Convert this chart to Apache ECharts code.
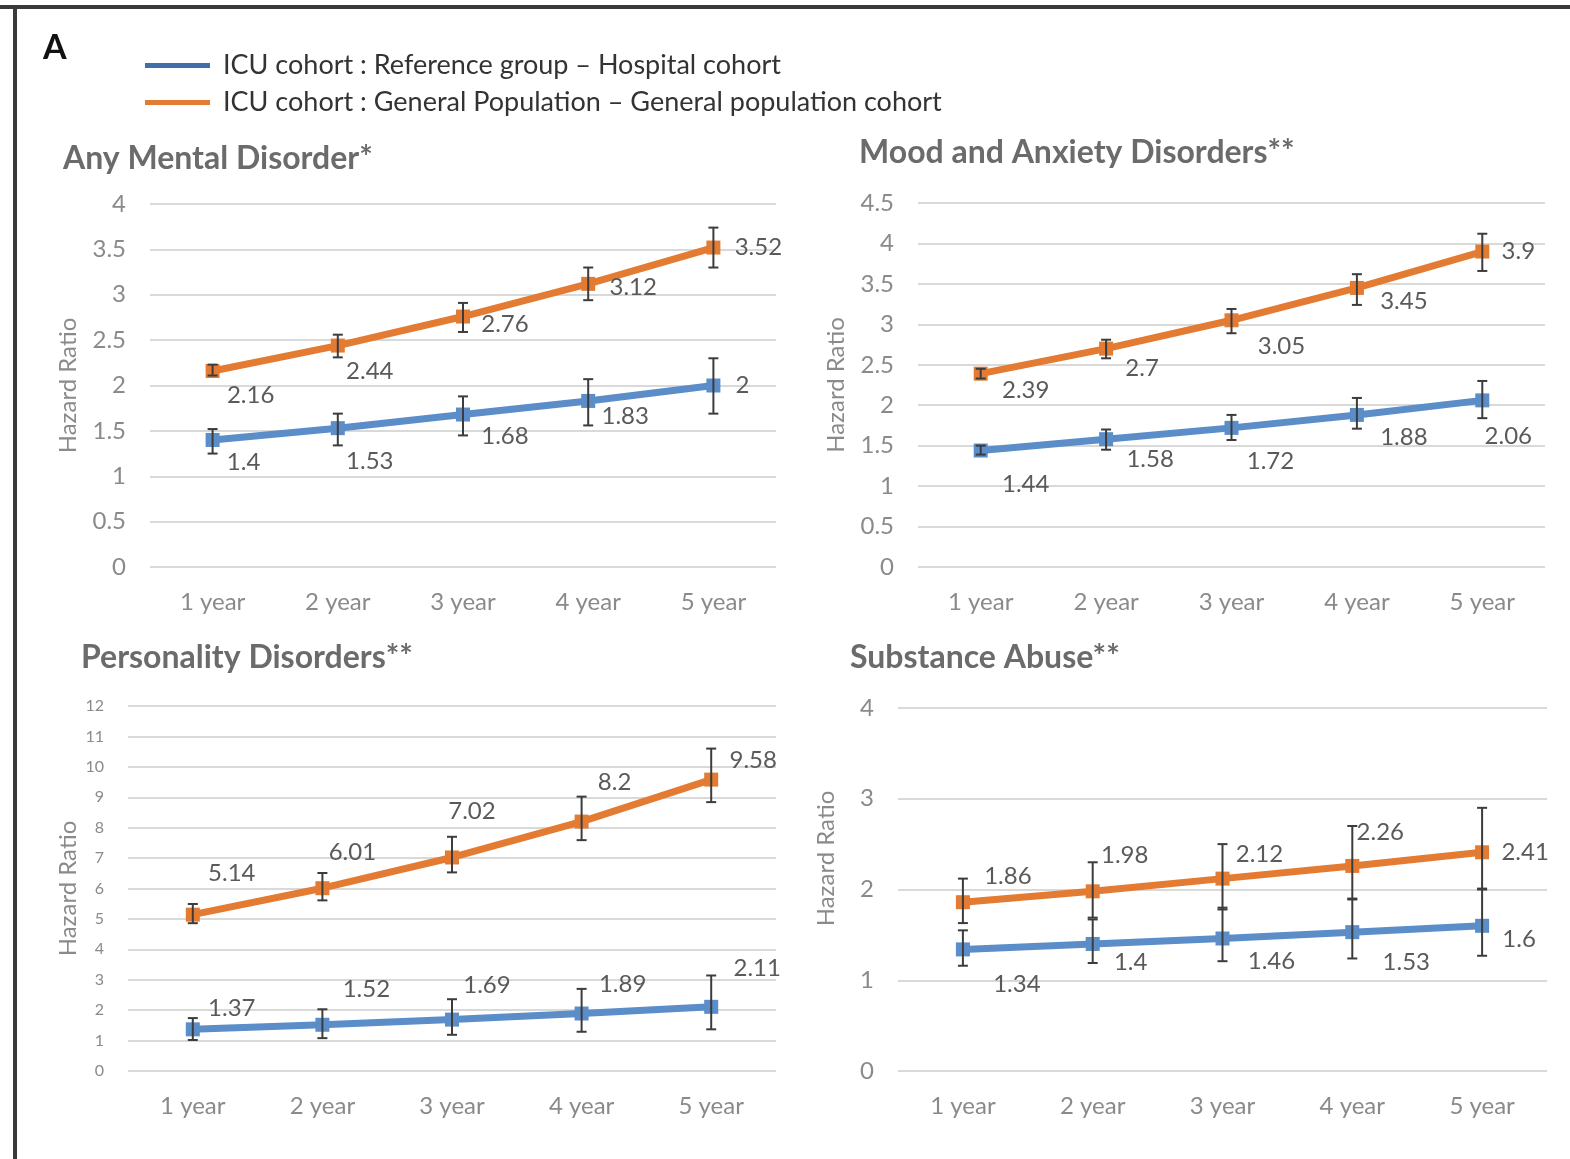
<!DOCTYPE html>
<html>
<head>
<meta charset="utf-8">
<script src="https://cdn.jsdelivr.net/npm/echarts@6/dist/echarts.min.js"></script>
<style>
html,body{margin:0;padding:0;background:#fff;}
#chart{width:1570px;height:1159px;}
</style>
</head>
<body>
<div id="chart"></div>
<script>
// ---------- DATA ----------
const categories = ['1 year', '2 year', '3 year', '4 year', '5 year'];
const seriesNames = ['ICU cohort : Reference group \u2013 Hospital cohort', 'ICU cohort : General Population \u2013 General population cohort'];
const panelTitles = ['Any Mental Disorder*', 'Mood and Anxiety Disorders**', 'Personality Disorders**', 'Substance Abuse**'];

// Any Mental Disorder
const anyHosp = [1.4, 1.53, 1.68, 1.83, 2];
const anyHospLow = [1.25, 1.34, 1.45, 1.56, 1.69];
const anyHospHigh = [1.52, 1.69, 1.88, 2.07, 2.30];
const anyGen = [2.16, 2.44, 2.76, 3.12, 3.52];
const anyGenLow = [2.11, 2.31, 2.59, 2.94, 3.30];
const anyGenHigh = [2.23, 2.56, 2.91, 3.30, 3.74];

// Mood and Anxiety Disorders
const moodHosp = [1.44, 1.58, 1.72, 1.88, 2.06];
const moodHospLow = [1.39, 1.45, 1.57, 1.71, 1.84];
const moodHospHigh = [1.50, 1.70, 1.88, 2.09, 2.30];
const moodGen = [2.39, 2.7, 3.05, 3.45, 3.9];
const moodGenLow = [2.33, 2.58, 2.89, 3.24, 3.66];
const moodGenHigh = [2.45, 2.81, 3.19, 3.62, 4.12];

// Personality Disorders
const persHosp = [1.37, 1.52, 1.69, 1.89, 2.11];
const persHospLow = [1.02, 1.08, 1.19, 1.29, 1.37];
const persHospHigh = [1.74, 2.03, 2.36, 2.70, 3.14];
const persGen = [5.14, 6.01, 7.02, 8.2, 9.58];
const persGenLow = [4.86, 5.61, 6.53, 7.59, 8.84];
const persGenHigh = [5.49, 6.51, 7.70, 9.02, 10.60];

// Substance Abuse
const subHosp = [1.34, 1.4, 1.46, 1.53, 1.6];
const subHospLow = [1.16, 1.19, 1.21, 1.24, 1.27];
const subHospHigh = [1.55, 1.67, 1.80, 1.90, 2.01];
const subGen = [1.86, 1.98, 2.12, 2.26, 2.41];
const subGenLow = [1.63, 1.69, 1.78, 1.89, 2.00];
const subGenHigh = [2.12, 2.30, 2.50, 2.70, 2.90];

// y axis scales
const yMax = [4, 4.5, 12, 4];
const yStep = [0.5, 0.5, 1, 1];

// ---------- LAYOUT / STYLE ----------
const BLUE = '#5B8DC8';
const ORANGE = '#E37B33';
const FONT = 'Lato, "Open Sans", sans-serif';

const grids = [
  {left: 150, top: 204, width: 626, height: 363},
  {left: 918, top: 203, width: 627, height: 364},
  {left: 128, top: 706, width: 648, height: 365},
  {left: 898, top: 708, width: 649, height: 363}
];
const titlePos = [[58, 138], [854, 132], [76, 637], [845, 637]];
const yLabelSize = [24, 24, 16, 24];
const yNameGap = [70, 70, 48, 60];
const yNamePad = [[0, 0, 0, 0], [0, 0, 0, 0], [0, 0, 0, 0], [0, 0, 0, 62]];

// label offsets (dx, dy) relative to the point, per panel: [hospital, general]
const labelOffsets = [
  [[[31, 22], [32, 33], [42, 22], [37, 15], [29, 0]],
   [[38, 24], [32, 26], [42, 8], [45, 3], [45, 0]]],
  [[[45, 34], [44, 20], [39, 33], [47, 22], [26, 36]],
   [[45, 17], [36, 20], [50, 26], [47, 13], [36, 0]]],
  [[[39, -21], [44, -36], [35, -34], [41, -29], [46, -39]],
   [[39, -41], [30, -36], [20, -46], [33, -39], [42, -19]]],
  [[[54, 35], [38, 18], [49, 23], [54, 30], [37, 13]],
   [[45, -26], [32, -36], [37, -24], [28, -34], [43, 0]]]
];

const panels = [
  [[anyHosp, anyHospLow, anyHospHigh], [anyGen, anyGenLow, anyGenHigh]],
  [[moodHosp, moodHospLow, moodHospHigh], [moodGen, moodGenLow, moodGenHigh]],
  [[persHosp, persHospLow, persHospHigh], [persGen, persGenLow, persGenHigh]],
  [[subHosp, subHospLow, subHospHigh], [subGen, subGenLow, subGenHigh]]
];

function errRender(params, api) {
  const x = api.value(0);
  const lo = api.coord([x, api.value(1)]);
  const hi = api.coord([x, api.value(2)]);
  const w = 5;
  const st = {stroke: '#3c3c3c', lineWidth: 2};
  return {
    type: 'group',
    children: [
      {type: 'line', shape: {x1: lo[0], y1: lo[1], x2: hi[0], y2: hi[1]}, style: st},
      {type: 'line', shape: {x1: lo[0] - w, y1: lo[1], x2: lo[0] + w, y2: lo[1]}, style: st},
      {type: 'line', shape: {x1: hi[0] - w, y1: hi[1], x2: hi[0] + w, y2: hi[1]}, style: st}
    ]
  };
}

const xAxes = [], yAxes = [], series = [], titles = [];
grids.forEach((g, i) => {
  xAxes.push({
    type: 'category', gridIndex: i, data: categories, boundaryGap: true,
    axisLine: {show: false}, axisTick: {show: false},
    axisLabel: {color: '#8a8a8a', fontSize: 24, fontFamily: FONT, margin: 23}
  });
  yAxes.push({
    type: 'value', gridIndex: i, min: 0, max: yMax[i], interval: yStep[i],
    name: 'Hazard Ratio', nameLocation: 'middle', nameGap: yNameGap[i], nameRotate: 90,
    nameTextStyle: {color: '#8a8a8a', fontSize: 24, fontFamily: FONT, padding: yNamePad[i]},
    axisLine: {show: false}, axisTick: {show: false},
    axisLabel: {color: '#8a8a8a', fontSize: yLabelSize[i], fontFamily: FONT, margin: 24},
    splitLine: {lineStyle: {color: '#d9d9d9', width: 2}}
  });
  titles.push({
    text: panelTitles[i], left: titlePos[i][0], top: titlePos[i][1],
    textStyle: {color: '#6b6b6b', fontSize: 32, fontWeight: 'bold', fontFamily: FONT}
  });
  panels[i].forEach((trip, s) => {
    const color = s === 0 ? BLUE : ORANGE;
    series.push({
      type: 'line', name: seriesNames[s], xAxisIndex: i, yAxisIndex: i,
      data: trip[0].map((v, k) => ({
        value: v,
        label: {offset: labelOffsets[i][s][k]}
      })),
      symbol: 'rect', symbolSize: 14, z: 3,
      lineStyle: {color: color, width: 7},
      itemStyle: {color: color},
      label: {show: true, position: 'inside', color: '#5a5a5a', fontSize: 24, fontFamily: FONT},
      emphasis: {disabled: true},
      animation: false
    });
    series.push({
      type: 'custom', name: seriesNames[s], xAxisIndex: i, yAxisIndex: i,
      renderItem: errRender,
      data: trip[1].map((lo, k) => [k, lo, trip[2][k]]),
      encode: {x: 0, y: [1, 2]}, z: 4, silent: true, animation: false
    });
  });
});

titles.push({
  text: 'A', left: 38, top: 26,
  textStyle: {color: '#111', fontSize: 34, fontWeight: 'bold', fontFamily: FONT}
});

const option = {
  backgroundColor: '#fff',
  animation: false,
  title: titles,
  legend: {
    data: seriesNames.map((n, s) => ({name: n, itemStyle: {color: s === 0 ? '#3F6FA8' : ORANGE}})),
    orient: 'vertical', left: 140, top: 47, itemWidth: 65, itemHeight: 5, itemGap: 10,
    icon: 'rect',
    textStyle: {color: '#333', fontSize: 27, fontFamily: FONT, padding: [0, 0, 0, 8]},
    selectedMode: false
  },
  grid: grids,
  xAxis: xAxes,
  yAxis: yAxes,
  series: series,
  graphic: [
    {type: 'rect', shape: {x: 0, y: 5, width: 1570, height: 4}, style: {fill: '#3a3a3a'}},
    {type: 'rect', shape: {x: 13, y: 5, width: 4, height: 1154}, style: {fill: '#3a3a3a'}}
  ]
};

const chart = echarts.init(document.getElementById('chart'), null, {renderer: 'canvas'});
chart.setOption(option);
</script>
</body>
</html>
